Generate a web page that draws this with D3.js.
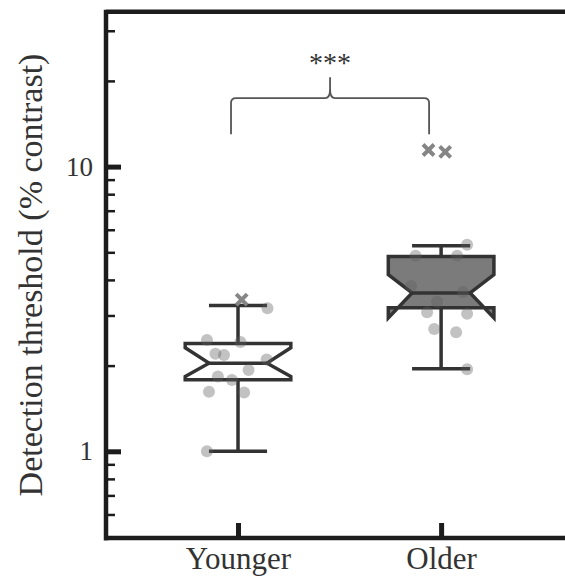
<!DOCTYPE html>
<html>
<head>
<meta charset="utf-8">
<script src="https://cdn.jsdelivr.net/npm/d3@7"></script>
<style>
  body { margin: 0; background: #fff; }
  svg { display: block; }
  text { font-family: "Liberation Serif", "Times New Roman", serif; fill: #333; }
</style>
</head>
<body>
<div id="chart"></div>
<script>
// data
const groups = ["Younger", "Older"];
const q1 = [1.785, 3.19];
const median = [2.04, 3.60];
const q3 = [2.39, 4.83];
const notchLo = [1.83, 2.94];
const notchHi = [2.31, 4.17];
const whiskerLo = [1.0, 1.95];
const whiskerHi = [3.25, 5.27];

const youngerPoints = [3.18, 2.46, 2.42, 2.20, 2.18, 2.10, 1.93, 1.83, 1.78, 1.62, 1.61, 1.0];
const youngerJitter = [0.145, -0.153, 0.012, -0.111, -0.069, 0.141, 0.052, -0.099, -0.030, -0.143, 0.030, -0.153];
const olderPoints = [5.31, 4.86, 4.86, 3.81, 3.63, 3.35, 3.08, 3.04, 2.69, 2.62, 1.94];
const olderJitter = [0.128, -0.126, 0.079, -0.148, 0.108, -0.020, -0.069, 0.128, -0.034, 0.074, 0.128];

const youngerOutliers = [3.41];
const youngerOutJitter = [0.018];
const olderOutliers = [11.44, 11.26];
const olderOutJitter = [-0.062, 0.020];

const majorTicks = [1, 10];
const minorTicks = [0.6, 0.7, 0.8, 0.9, 2, 3, 4, 5, 6, 7, 8, 9, 20, 30];

// layout
const width = 565, height = 577;
const boxHalf = 0.26, notchHalf = 0.143, capHalf = 0.143;
const axisColor = "#1c1c1c";
const boxStroke = "#333";
const olderFill = "#7b7b7b";

const svg = d3.select("#chart").append("svg")
    .attr("width", width)
    .attr("height", height);

const x = d3.scaleLinear().domain([-0.65, 1.61]).range([106, 565]);
const y = d3.scaleLog().domain([0.496, 35]).range([538, 11.7]);

// boxes
const stats = groups.map((g, i) => ({
    i: i, q1: q1[i], med: median[i], q3: q3[i],
    nlo: notchLo[i], nhi: notchHi[i], wlo: whiskerLo[i], whi: whiskerHi[i]
}));

function boxPath(d) {
    const L = x(d.i - boxHalf), R = x(d.i + boxHalf);
    const nl = x(d.i - notchHalf), nr = x(d.i + notchHalf);
    const pts = [
        [L, y(d.q1)], [L, y(d.nlo)], [nl, y(d.med)], [L, y(d.nhi)], [L, y(d.q3)],
        [R, y(d.q3)], [R, y(d.nhi)], [nr, y(d.med)], [R, y(d.nlo)], [R, y(d.q1)]
    ];
    return d3.line()(pts) + "Z";
}

const box = svg.append("g").selectAll("g")
    .data(stats)
    .enter().append("g");

// whiskers
box.append("line")
    .attr("x1", d => x(d.i)).attr("x2", d => x(d.i))
    .attr("y1", d => y(d.q3)).attr("y2", d => y(d.whi))
    .attr("stroke", boxStroke).attr("stroke-width", 3.5);
box.append("line")
    .attr("x1", d => x(d.i)).attr("x2", d => x(d.i))
    .attr("y1", d => y(d.q1)).attr("y2", d => y(d.wlo))
    .attr("stroke", boxStroke).attr("stroke-width", 3.5);
box.append("line")
    .attr("x1", d => x(d.i - capHalf)).attr("x2", d => x(d.i + capHalf))
    .attr("y1", d => y(d.whi)).attr("y2", d => y(d.whi))
    .attr("stroke", boxStroke).attr("stroke-width", 3.5);
box.append("line")
    .attr("x1", d => x(d.i - capHalf)).attr("x2", d => x(d.i + capHalf))
    .attr("y1", d => y(d.wlo)).attr("y2", d => y(d.wlo))
    .attr("stroke", boxStroke).attr("stroke-width", 3.5);

box.append("path")
    .attr("d", boxPath)
    .attr("fill", d => d.i === 1 ? olderFill : "#fff")
    .attr("stroke", boxStroke)
    .attr("stroke-width", 3.5)
    .attr("stroke-linejoin", "miter");

box.append("line")
    .attr("x1", d => x(d.i - notchHalf)).attr("x2", d => x(d.i + notchHalf))
    .attr("y1", d => y(d.med)).attr("y2", d => y(d.med))
    .attr("stroke", boxStroke).attr("stroke-width", 3.5);

// individual points
const points = youngerPoints.map((v, k) => ({i: 0, v: v, j: youngerJitter[k]}))
    .concat(olderPoints.map((v, k) => ({i: 1, v: v, j: olderJitter[k]})));

svg.append("g").selectAll("circle")
    .data(points)
    .enter().append("circle")
    .attr("cx", d => x(d.i + d.j))
    .attr("cy", d => y(d.v))
    .attr("r", 6)
    .attr("fill", "#5e5e5e")
    .attr("fill-opacity", 0.38);

// outliers as crosses
const outliers = youngerOutliers.map((v, k) => ({i: 0, v: v, j: youngerOutJitter[k]}))
    .concat(olderOutliers.map((v, k) => ({i: 1, v: v, j: olderOutJitter[k]})));

svg.append("g").selectAll("path")
    .data(outliers)
    .enter().append("path")
    .attr("transform", d => `translate(${x(d.i + d.j)},${y(d.v)})`)
    .attr("d", "M-5.5,-5.5L5.5,5.5M-5.5,5.5L5.5,-5.5")
    .attr("stroke", "#858585")
    .attr("stroke-width", 4)
    .attr("fill", "none");

// frame
const [x0, x1] = x.range();
const [yb, yt] = y.range();
svg.append("path")
    .attr("d", `M${x0},${yt}H${x1}M${x0},${yt - 2}V${yb + 2.5}M${x0},${yb}H${x1}`)
    .attr("stroke", axisColor)
    .attr("stroke-width", 4.5)
    .attr("fill", "none");

// y axis
const yAxis = svg.append("g")
    .attr("transform", `translate(${x0},0)`)
    .call(d3.axisLeft(y).tickValues(majorTicks).tickSize(-15).tickPadding(13).tickFormat(d3.format("d")));
yAxis.select(".domain").remove();
yAxis.selectAll(".tick line").attr("stroke", axisColor).attr("stroke-width", 5);
yAxis.selectAll(".tick text").style("font-size", "27px").attr("fill", "#333");

const yMinor = svg.append("g")
    .attr("transform", `translate(${x0},0)`)
    .call(d3.axisLeft(y).tickValues(minorTicks).tickSize(-9).tickFormat(""));
yMinor.select(".domain").remove();
yMinor.selectAll(".tick line").attr("stroke", axisColor).attr("stroke-width", 2.5);

// x axis
const xAxis = svg.append("g")
    .attr("transform", `translate(0,${yb})`)
    .call(d3.axisBottom(x).tickValues([0, 1]).tickSize(-15).tickPadding(9).tickFormat(i => groups[i]));
xAxis.select(".domain").remove();
xAxis.selectAll(".tick line").attr("stroke", axisColor).attr("stroke-width", 5);
xAxis.selectAll(".tick text").style("font-size", "31px").attr("fill", "#333");

// y label
svg.append("text")
    .attr("transform", "rotate(-90)")
    .attr("x", -275)
    .attr("y", 42)
    .style("text-anchor", "middle")
    .style("font-size", "34px")
    .text("Detection threshold (% contrast)");

// significance bracket
const bl = x(0) - 7, br = x(1) - 12, bm = (bl + br) / 2;
const bTop = y(17.4), bEnd = y(13.0), bPeak = y(20.6), bCusp = y(18.7);
const r = 5;
svg.append("path")
    .attr("d", `M${bl},${bEnd}V${bTop + r}Q${bl},${bTop} ${bl + r},${bTop}H${bm - r}` +
        `Q${bm},${bTop} ${bm},${bCusp}V${bPeak}M${bm},${bCusp}Q${bm},${bTop} ${bm + r},${bTop}` +
        `H${br - r}Q${br},${bTop} ${br},${bTop + r}V${bEnd}`)
    .attr("stroke", "#555")
    .attr("stroke-width", 1.8)
    .attr("fill", "none");

svg.append("text")
    .attr("x", bm)
    .attr("y", 72)
    .style("text-anchor", "middle")
    .style("font-size", "28px")
    .attr("fill", "#444")
    .text("***");
</script>
</body>
</html>
